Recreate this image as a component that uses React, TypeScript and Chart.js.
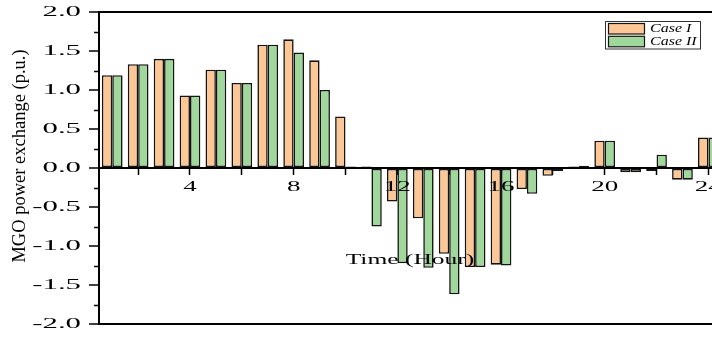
import React, { useEffect, useRef } from "react";
import { Chart, registerables } from "chart.js";

Chart.register(...registerables);

// ---- data ----
const hours = [1, 2, 3, 4, 5, 6, 7, 8, 9, 10, 11, 12, 13, 14, 15, 16, 17, 18, 19, 20, 21, 22, 23, 24];
const caseI = [1.19, 1.33, 1.4, 0.93, 1.26, 1.09, 1.58, 1.65, 1.38, 0.66, 0.02, -0.43, -0.645, -1.1, -1.27, -1.24, -0.27, -0.1, 0.02, 0.35, -0.055, -0.04, -0.15, 0.39];
const caseII = [1.19, 1.33, 1.4, 0.93, 1.26, 1.09, 1.58, 1.48, 1.0, 0.02, -0.75, -1.22, -1.28, -1.62, -1.27, -1.25, -0.33, -0.04, 0.03, 0.35, -0.055, 0.17, -0.15, 0.39];
const seriesLabels = ["Case I", "Case II"];

const xTickMarks = [2, 4, 6, 8, 10, 12, 14, 16, 18, 20, 22, 24];
const xTickLabels = [4, 8, 12, 16, 20, 24];
const yTickValues = [-2, -1.5, -1, -0.5, 0, 0.5, 1, 1.5, 2];
const yMinorTicks = [-1.75, -1.25, -0.75, -0.25, 0.25, 0.75, 1.25, 1.75];
const xTitle = "Time (Hour)";
const yTitle = "MGO power exchange (p.u.)";

const ORANGE = "#FDC795";
const GREEN = "#A0D89C";
const EDGE = "#141414";
const SERIF = '"Liberation Serif", "Times New Roman", serif';

function stretchText(
  ctx: CanvasRenderingContext2D,
  text: string,
  x: number,
  y: number,
  sx: number,
  font: string,
  align: CanvasTextAlign,
  baseline: CanvasTextBaseline
) {
  ctx.save();
  ctx.font = font;
  ctx.fillStyle = "#000";
  ctx.textAlign = align;
  ctx.textBaseline = baseline;
  ctx.translate(x, y);
  ctx.scale(sx, 1);
  ctx.fillText(text, 0, 0);
  ctx.restore();
}

const textPlugin = {
  id: "textPlugin",
  afterDatasetsDraw(chart: any) {
    const { ctx, chartArea, scales } = chart;
    const xs = scales.x;
    const ys = scales.y;
    // minor y ticks
    ctx.save();
    ctx.strokeStyle = "#000";
    ctx.lineWidth = 1.5;
    yMinorTicks.forEach((v) => {
      const py = Math.round(ys.getPixelForValue(v)) + 0.5;
      ctx.beginPath();
      ctx.moveTo(chartArea.left - 5, py);
      ctx.lineTo(chartArea.left, py);
      ctx.stroke();
    });
    ctx.restore();

    // y tick labels
    yTickValues.forEach((v) => {
      const py = ys.getPixelForValue(v);
      stretchText(ctx, v.toFixed(1), chartArea.left - 18, py, 2.2, `14px ${SERIF}`, "right", "middle");
    });
    // x tick labels
    const zeroY = ys.getPixelForValue(0);
    xTickLabels.forEach((v) => {
      const px = xs.getPixelForValue(v);
      stretchText(ctx, String(v), px, zeroY + 19, 1.8, `15px ${SERIF}`, "center", "middle");
    });
    // x title
    stretchText(ctx, xTitle, 410, 264, 1.7, `15px ${SERIF}`, "center", "alphabetic");
    // y title (rotated)
    ctx.save();
    ctx.font = `18.5px ${SERIF}`;
    ctx.fillStyle = "#000";
    ctx.textAlign = "center";
    ctx.textBaseline = "alphabetic";
    ctx.translate(25, 156);
    ctx.rotate(-Math.PI / 2);
    ctx.fillText(yTitle, 0, 0);
    ctx.restore();
  },
  afterDraw(chart: any) {
    const { ctx } = chart;
    const ds = chart.data.datasets;
    // legend box
    ctx.save();
    ctx.fillStyle = "#fff";
    ctx.fillRect(605.5, 21.5, 95, 27.5);
    ctx.strokeStyle = "#333";
    ctx.lineWidth = 1;
    ctx.strokeRect(605.5, 21.5, 95, 27.5);
    ds.forEach((d: any, i: number) => {
      const top = 23.5 + i * 12.8;
      ctx.fillStyle = d.backgroundColor;
      ctx.fillRect(608.5, top, 36, 10.5);
      ctx.strokeStyle = EDGE;
      ctx.lineWidth = 1.2;
      ctx.strokeRect(608.5, top, 36, 10.5);
      stretchText(ctx, d.label, 650, top + 5.5, 1.28, `italic 12.5px ${SERIF}`, "left", "middle");
    });
    ctx.restore();
  },
};

export default function App() {
  const ref = useRef<HTMLCanvasElement>(null);

  useEffect(() => {
    const canvas = ref.current;
    if (!canvas) return;
    const chart = new Chart(canvas, {
      type: "bar",
      data: {
        datasets: [
          {
            label: seriesLabels[0],
            data: hours.map((h, i) => ({ x: h, y: caseI[i] })),
            backgroundColor: ORANGE,
            borderColor: EDGE,
            borderWidth: 1.6,
            borderSkipped: false,
            categoryPercentage: 0.8,
            barPercentage: 1.0,
          },
          {
            label: seriesLabels[1],
            data: hours.map((h, i) => ({ x: h, y: caseII[i] })),
            backgroundColor: GREEN,
            borderColor: EDGE,
            borderWidth: 1.6,
            borderSkipped: false,
            categoryPercentage: 0.8,
            barPercentage: 1.0,
          },
        ],
      } as any,
      options: {
        animation: false,
        responsive: false,
        devicePixelRatio: 1,
        layout: { padding: { top: 12, bottom: 15, left: 0, right: 0 } },
        plugins: { legend: { display: false }, tooltip: { enabled: false } },
        scales: {
          x: {
            type: "linear",
            position: { y: 0 } as any,
            min: 0.49,
            max: 24.14,
            offset: false,
            afterBuildTicks: (s: any) => {
              s.ticks = xTickMarks.map((v) => ({ value: v }));
            },
            afterFit: (s: any) => {
              s.height = 0;
            },
            ticks: { display: false },
            grid: {
              display: true,
              offset: false,
              drawOnChartArea: false,
              drawTicks: true,
              tickLength: 6,
              tickColor: "#000",
              tickWidth: 1.5,
            },
            border: { display: true, color: "#000", width: 2 },
          },
          y: {
            type: "linear",
            position: "left",
            min: -2,
            max: 2,
            afterBuildTicks: (s: any) => {
              s.ticks = yTickValues.map((v) => ({ value: v }));
            },
            afterFit: (s: any) => {
              s.width = 99;
            },
            ticks: { display: false },
            grid: {
              display: true,
              drawOnChartArea: true,
              drawTicks: true,
              tickLength: 10,
              tickColor: "#000",
              tickWidth: 1.5,
              lineWidth: 2,
              color: (c: any) =>
                c.tick && Math.abs(Math.abs(c.tick.value) - 2) < 1e-9 ? "#000" : "rgba(0,0,0,0)",
            },
            border: { display: true, color: "#000", width: 2 },
          },
        },
      } as any,
      plugins: [textPlugin],
    });
    return () => chart.destroy();
  }, []);

  return (
    <div style={{ position: "absolute", left: 0, top: 0, width: 712, height: 339, background: "#fff" }}>
      <canvas ref={ref} width={712} height={339} style={{ display: "block", width: 712, height: 339 }} />
    </div>
  );
}
